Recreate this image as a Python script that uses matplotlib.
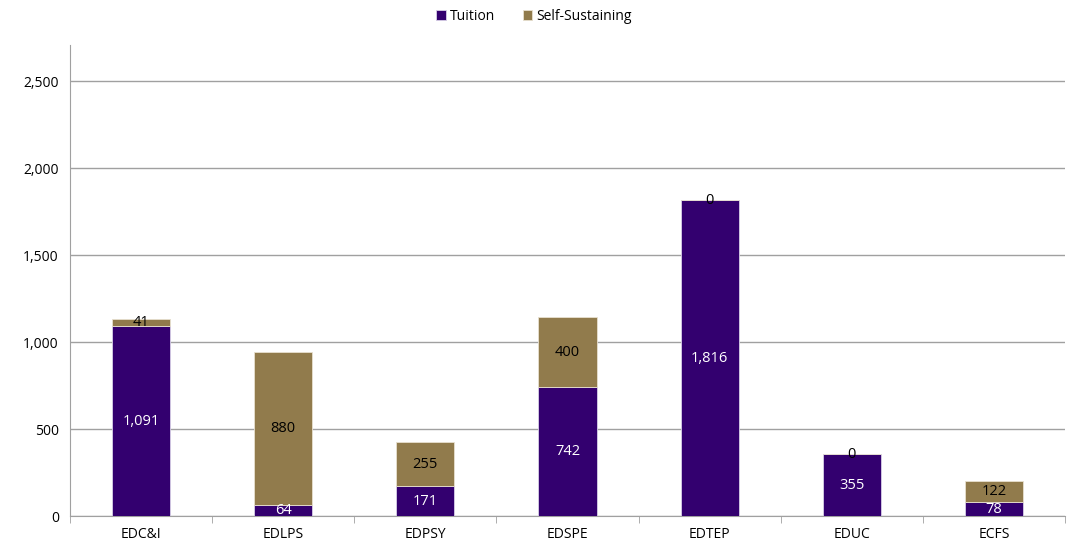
import matplotlib.pyplot as plt
import numpy as np

plt.rcParams['font.family'] = ['Open Sans', 'DejaVu Sans']

# data
categories = ['EDC&I', 'EDLPS', 'EDPSY', 'EDSPE', 'EDTEP', 'EDUC', 'ECFS']
tuition = [1091, 64, 171, 742, 1816, 355, 78]
self_sustaining = [41, 880, 255, 400, 0, 0, 122]

c_tuition = '#33006F'
c_self = '#917B4C'

fig = plt.figure(figsize=(10.68, 5.47), dpi=100)
ax = fig.add_axes([70/1068, 1-516/547, (1065-70)/1068, (516-45)/547])

x = np.arange(len(categories))
w = 0.41
b1 = ax.bar(x, tuition, w, color=c_tuition, edgecolor='#d8d0e8', linewidth=0.6, label='Tuition', zorder=3)
b2 = ax.bar(x, self_sustaining, w, bottom=tuition, color=c_self, edgecolor='#e8e0d0', linewidth=0.6,
            label='Self-Sustaining', zorder=3)

for i in range(len(categories)):
    t = tuition[i]
    s = self_sustaining[i]
    ax.text(x[i], t/2, f'{t:,}', ha='center', va='center', color='white', fontsize=10.5, zorder=4)
    ax.text(x[i], t + s/2, f'{s:,}', ha='center', va='center', color='black', fontsize=10.5, zorder=4)

ax.set_xlim(-0.5, len(categories) - 0.5)
ax.set_ylim(0, 2707)
ax.set_yticks(range(0, 3000, 500))
ax.set_yticklabels([f'{v:,}' for v in range(0, 3000, 500)])
ax.yaxis.grid(True, color='#a0a0a0', linewidth=1, zorder=0)

ax.set_xticks(x)
ax.set_xticklabels(categories)
ax.set_xticks(np.arange(-0.5, len(categories), 1), minor=True)
ax.tick_params(axis='x', which='major', length=0, pad=8, labelsize=10)
ax.tick_params(axis='x', which='minor', length=5, color='#a0a0a0', direction='out')
ax.tick_params(axis='y', length=0, pad=8, labelsize=10)

for sp in ['top', 'right']:
    ax.spines[sp].set_visible(False)
ax.spines['left'].set_color('#a0a0a0')
ax.spines['bottom'].set_color('#a0a0a0')

fig.legend(handles=[b1, b2], loc='upper center', bbox_to_anchor=(0.5, 1.007), ncol=2, frameon=False,
           fontsize=10, handlelength=0.7, handleheight=0.7, handletextpad=0.3, columnspacing=2)

fig.savefig('out.png', dpi=100)
